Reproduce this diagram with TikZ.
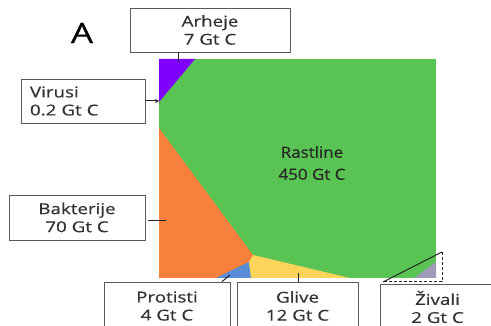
\documentclass[tikz,border=0pt]{standalone}
\usepackage{fontspec}
\setmainfont{Open Sans}[FakeStretch=1.25,FakeBold=0.5]
\newfontfamily\rasfont{Open Sans}[FakeStretch=1.1,FakeBold=0.5]
\usetikzlibrary{arrows.meta}
\definecolor{cGreen}{RGB}{89,196,84}
\definecolor{cPurple}{RGB}{128,0,255}
\definecolor{cOrange}{RGB}{246,128,60}
\definecolor{cBlue}{RGB}{90,140,215}
\definecolor{cYellow}{RGB}{252,212,90}
\definecolor{cGray}{RGB}{160,155,185}
\definecolor{cText}{RGB}{50,50,50}
\definecolor{cBorder}{RGB}{90,90,90}
\begin{document}
\begin{tikzpicture}[x=1pt,y=-1pt,
  lbl/.style={draw=cBorder,line width=0.8pt,fill=white,align=center,
    font=\fontsize{15}{18}\selectfont,text=cText,inner sep=0pt},
  conn/.style={line width=1pt,black!85},
  dashconn/.style={line width=1pt,black!85,densely dashed}]
\clip (0,0) rectangle (491,326);
\fill[white] (0,0) rectangle (491,326);
% regions
\fill[cGreen] (159,59) rectangle (436,278);
\fill[cPurple] (159,59) -- (195,59) -- (159,102) -- cycle;
\fill[cOrange] (159,128) -- (253,255) -- (249,262) -- (216,278) -- (159,278) -- cycle;
\fill[cBlue] (249,262) -- (216,278) -- (251,278) -- cycle;
\fill[cYellow] (253,255) -- (350,278) -- (251,278) -- (249,262) -- cycle;
\fill[cGray] (414,278) -- (436,278) -- (436,262) -- cycle;
% texts
\node[font=\fontsize{28}{30}\selectfont,text=black] (lblA) at (82,33) {A};
\node[font=\rasfont\fontsize{15.4}{22}\selectfont,align=center,text=black!85] (ras) at (312,163) {Rastline\\450 Gt C};
% boxes
\node[lbl,minimum width=160pt,minimum height=44pt] (arh) at (210,30) {Arheje\\7 Gt C};
\node[lbl,text width=106pt,align=left,inner xsep=9pt,minimum height=44pt] (vir) at (83,101) {Virusi\\0.2 Gt C};
\node[lbl,minimum width=136pt,minimum height=45pt] (bak) at (77,217.5) {Bakterije\\70 Gt C};
\node[lbl,minimum width=126pt,minimum height=48pt] (pro) at (167,306) {Protisti\\4 Gt C};
\node[lbl,minimum width=121pt,minimum height=48pt] (gli) at (297.5,306) {Glive\\12 Gt C};
\node[lbl,minimum width=115pt,minimum height=46pt] (ziv) at (437.5,307) {Živali\\2 Gt C};
% connectors
\coordinate (pA) at (178,62);
\draw[conn] (arh.south -| pA) -- (pA);
\coordinate (pV) at (159,101);
\draw[conn,-{Stealth[length=4pt,width=4pt]}] (vir.east |- pV) -- (pV);
\coordinate (pB) at (166,221);
\draw[conn] ([xshift=3pt]bak.east |- pB) -- (pB);
\coordinate (pP0) at (222,283);
\coordinate (pP) at (230,275);
\draw[conn] (pro.north -| pP0) -- (pP);
\coordinate (pG) at (298,273);
\draw[conn] (gli.north -| pG) -- (pG);
\coordinate (tz1) at (383,282);
\coordinate (tz2) at (442,252);
\coordinate (tz3) at (442,282);
\draw[conn] (tz1) -- (tz2);
\draw[dashconn] (tz2) -- (tz3) -- (tz1);
\end{tikzpicture}
\end{document}
